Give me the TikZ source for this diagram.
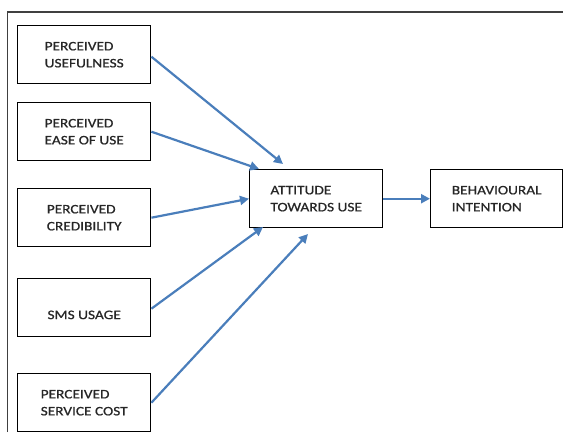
\documentclass[tikz,border=0pt]{standalone}
\usepackage{fontspec}
\setmainfont{Carlito}[FakeStretch=1.18, FakeBold=0.8]
\usetikzlibrary{arrows.meta}
\definecolor{arrowblue}{HTML}{4A7EBB}
\tikzset{
  box/.style={draw=black, line width=1.4pt, minimum width=133pt, minimum height=58pt,
    inner sep=0pt, align=left, font=\fontsize{13}{17}\selectfont, text=black!85, anchor=north west},
  link/.style={draw=arrowblue, line width=2.2pt, -{Triangle[length=9pt,width=9pt]}},
  frame/.style={draw=black!75, line width=1.2pt}
}
\begin{document}
\begin{tikzpicture}[x=1pt,y=-1pt]
\useasboundingbox (0,0) rectangle (563,432);
\coordinate (fbl) at (7.5,432);
\coordinate (ftl) at (7.5,12);
\coordinate (ftr) at (563,12);
\draw[frame] (fbl) -- (ftl) -- (ftr);
\node[box] (pu) at (17,25) {PERCEIVED\\USEFULNESS};
\node[box] (peou) at (17,102) {PERCEIVED\\EASE OF USE};
\node[box] (pc) at (17,188) {PERCEIVED\\CREDIBILITY};
\node[box] (sms) at (17,278) {\strut\\[-6pt]SMS USAGE};
\node[box] (psc) at (17,373) {PERCEIVED\\SERVICE COST};
\node[box] (att) at (249,169) {ATTITUDE\\TOWARDS USE};
\node[box, minimum width=132pt] (bi) at (430,169) {BEHAVIOURAL\\INTENTION};
\coordinate (a1) at (283,164);
\coordinate (a2) at (259,169);
\coordinate (a4) at (263,227);
\coordinate (a5) at (308,234);
\draw[link] ([yshift=-2pt]pu.east) -- (a1);
\draw[link] (peou.east) -- (a2);
\draw[link] (pc.east) -- (att.west);
\draw[link] ([yshift=-1pt]sms.east) -- (a4);
\draw[link] (psc.east) -- (a5);
\draw[link] (att.east) -- (bi.west);
\end{tikzpicture}
\end{document}
